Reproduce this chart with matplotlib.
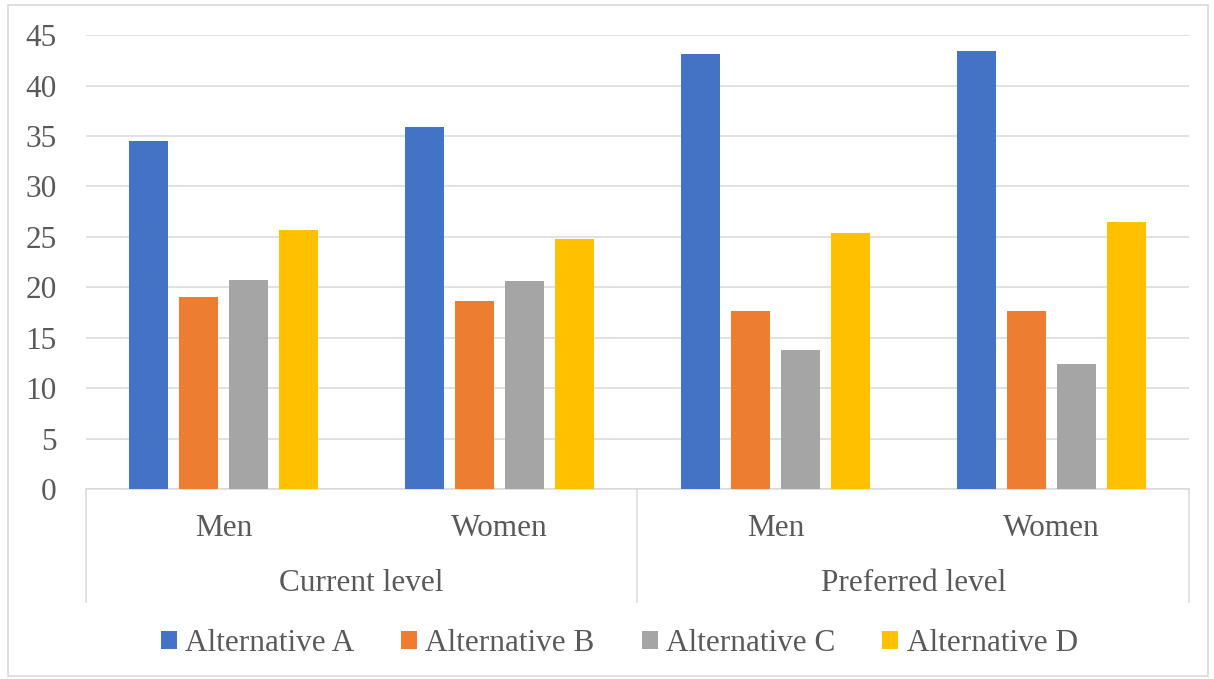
import matplotlib
matplotlib.use('Agg')
import numpy as np
from matplotlib import pyplot as plt
from matplotlib.patches import Patch, Rectangle


groups = ['Current level', 'Preferred level']
sexes = ['Men', 'Women']
series = ['Alternative A', 'Alternative B', 'Alternative C', 'Alternative D']

alt_a = [34.5, 35.9, 43.1, 43.4]
alt_b = [19.0, 18.6, 17.6, 17.6]
alt_c = [20.7, 20.6, 13.8, 12.4]
alt_d = [25.7, 24.8, 25.4, 26.5]

colors = ['#4472C4', '#ED7D31', '#A5A5A5', '#FFC000']
text_col = '#595959'
line_col = '#D9D9D9'

plt.rcParams['font.family'] = ['Liberation Serif', 'DejaVu Serif']
fs = 22.5

fig = plt.figure(figsize=(12.14, 6.79), dpi=100)
ax = fig.add_axes([0.0708, 0.2798, 0.9086, 0.6685])

# outer chart border
fig.patches.append(Rectangle((8 / 1214, 3 / 679), 1200 / 1214, 671 / 679,
                             transform=fig.transFigure, fill=False,
                             edgecolor=line_col, linewidth=1.2))

n_cat = len(groups) * len(sexes)
x = np.arange(n_cat) + 0.5
width = 0.1414
step = 0.1813

for i, (vals, c, name) in enumerate(zip([alt_a, alt_b, alt_c, alt_d], colors, series)):
    ax.bar(x + (i - 1.5) * step, vals, width=width, color=c, label=name, zorder=3)

ax.set_xlim(0, n_cat)
ax.set_ylim(0, 45)
ax.set_yticks(np.arange(0, 46, 5))
ax.yaxis.grid(True, color=line_col, linewidth=1.1, zorder=0)
ax.tick_params(axis='y', length=0, pad=21, labelsize=fs, labelcolor=text_col)
ax.set_xticks([])

for s in ['top', 'right', 'left']:
    ax.spines[s].set_visible(False)
ax.spines['bottom'].set_color(line_col)
ax.spines['bottom'].set_linewidth(1.1)

# two-level category axis
trans = ax.get_xaxis_transform()
for xv in [0, 2, 4]:
    ax.plot([xv, xv], [0, -0.249], transform=trans, color=line_col,
            linewidth=1.1, clip_on=False)

for k, xc in enumerate(x):
    ax.text(xc, -0.088, sexes[k % 2], transform=trans, ha='center', va='center',
            fontsize=fs, color=text_col)

for g, name in enumerate(groups):
    ax.text(2 * g + 1, -0.209, name, transform=trans, ha='center', va='center',
            fontsize=fs, color=text_col)

handles = [Patch(facecolor=c, edgecolor='none') for c in colors]
leg = fig.legend(handles, series, loc='center', bbox_to_anchor=(0.510, 0.052),
                 ncol=4, frameon=False, fontsize=fs, handlelength=0.52,
                 handleheight=0.52, handletextpad=0.26, columnspacing=1.5,
                 borderaxespad=0)
for t in leg.get_texts():
    t.set_color(text_col)

fig.savefig('out.png', dpi=100)
